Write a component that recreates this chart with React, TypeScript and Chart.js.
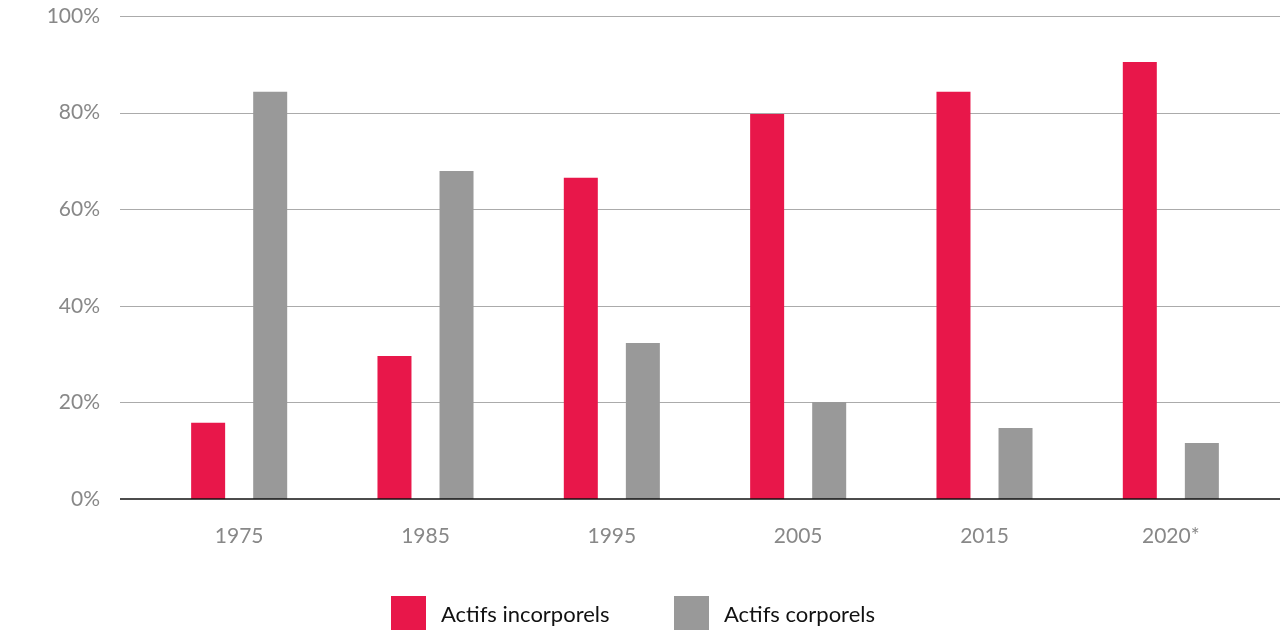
import React, { useEffect, useRef } from "react";
import { Chart, registerables } from "chart.js";

Chart.register(...registerables);

const categories = ["1975", "1985", "1995", "2005", "2015", "2020*"];
const incorporels = [15.8, 29.6, 66.5, 79.7, 84.3, 90.5];
const corporels = [84.3, 67.9, 32.3, 20.1, 14.7, 11.6];
const yTicks = [0, 20, 40, 60, 80, 100];
const seriesNames = ["Actifs incorporels", "Actifs corporels"];
const seriesColors = ["#E8174A", "#999999"];

const FONT = "Lato, 'Noto Sans', sans-serif";

const gridPlugin = {
  id: "customGrid",
  beforeDatasetsDraw(chart: any) {
    const y = chart.scales.y;
    const ctx = chart.ctx;
    ctx.save();
    ctx.strokeStyle = "#ababab";
    ctx.lineWidth = 1;
    yTicks.forEach((v) => {
      if (v === 0) return;
      const py = Math.round(y.getPixelForValue(v)) + 0.5;
      ctx.beginPath();
      ctx.moveTo(120, py);
      ctx.lineTo(1280, py);
      ctx.stroke();
    });
    ctx.restore();
  },
  afterDatasetsDraw(chart: any) {
    const y = chart.scales.y;
    const ctx = chart.ctx;
    ctx.save();
    ctx.strokeStyle = "#111111";
    ctx.lineWidth = 1.5;
    const py = Math.round(y.getPixelForValue(0));
    ctx.beginPath();
    ctx.moveTo(120, py);
    ctx.lineTo(1280, py);
    ctx.stroke();
    ctx.restore();
  },
};

export default function App() {
  const ref = useRef<HTMLCanvasElement>(null);
  useEffect(() => {
    if (!ref.current) return;
    const chart = new Chart(ref.current, {
      type: "bar",
      data: {
        labels: categories,
        datasets: [
          {
            label: seriesNames[0],
            data: incorporels,
            backgroundColor: seriesColors[0],
            categoryPercentage: 0.666,
            barPercentage: 0.548,
          },
          {
            label: seriesNames[1],
            data: corporels,
            backgroundColor: seriesColors[1],
            categoryPercentage: 0.666,
            barPercentage: 0.548,
          },
        ],
      },
      options: {
        responsive: false,
        animation: false,
        layout: { padding: { top: 16, right: 16, bottom: 71, left: 0 } },
        plugins: { legend: { display: false }, tooltip: { enabled: false } },
        scales: {
          x: {
            grid: { display: false, drawTicks: false },
            border: { display: false },
            ticks: {
              color: "#888888",
              font: { family: FONT, size: 21 },
              padding: 25,
            },
            afterFit(scale: any) {
              scale.height = 60;
              scale.paddingLeft = 0;
              scale.paddingRight = 0;
            },
          },
          y: {
            min: 0,
            max: 100,
            afterBuildTicks(scale: any) {
              scale.ticks = yTicks.map((v) => ({ value: v }));
            },
            grid: { display: false, drawTicks: false },
            border: { display: false },
            ticks: {
              color: "#888888",
              font: { family: FONT, size: 21 },
              padding: 46,
              callback: (v: any) => v + "%",
            },
            afterFit(scale: any) {
              scale.width = 146;
              scale.paddingTop = 0;
              scale.paddingBottom = 0;
            },
          },
        },
      },
      plugins: [gridPlugin],
    });
    return () => chart.destroy();
  }, []);

  return (
    <div style={{ position: "absolute", left: 0, top: 0, width: 1280, height: 630, background: "#fff" }}>
      <canvas ref={ref} width={1280} height={630} style={{ display: "block" }} />
      {seriesNames.map((name, i) => (
        <div
          key={name}
          style={{
            position: "absolute",
            top: 596,
            left: i === 0 ? 391 : 674,
            display: "flex",
            alignItems: "center",
            fontFamily: FONT,
            fontSize: 22,
            color: "#111",
          }}
        >
          <div style={{ width: 35, height: 34, background: seriesColors[i], marginRight: 15 }} />
          <span>{name}</span>
        </div>
      ))}
    </div>
  );
}
